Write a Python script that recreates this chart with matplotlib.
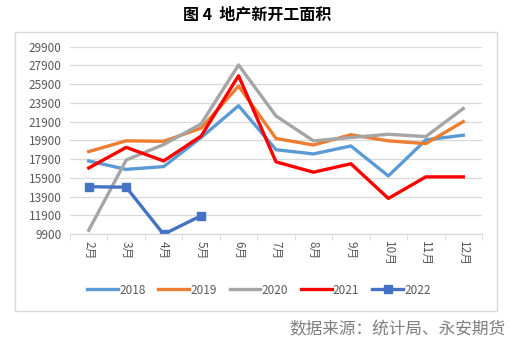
import matplotlib
matplotlib.use("Agg")
import matplotlib.pyplot as plt
from matplotlib.patches import Rectangle
import numpy as np

plt.rcParams['font.family'] = ['Noto Sans CJK SC', 'DejaVu Sans']

months = ["2月", "3月", "4月", "5月", "6月", "7月", "8月", "9月", "10月", "11月", "12月"]
s2018 = [17700, 16800, 17100, 20200, 23600, 18900, 18450, 19300, 16100, 19950, 20450]
s2019 = [18700, 19850, 19800, 21200, 25700, 20100, 19400, 20500, 19850, 19550, 21900]
s2020 = [10300, 17800, 19450, 21650, 27950, 22500, 19850, 20200, 20550, 20300, 23300]
s2021 = [16950, 19150, 17700, 20350, 26800, 17600, 16500, 17400, 13700, 16000, 16000]
s2022 = [14950, 14900, 9870, 11850]
yticks = list(range(9900, 29901, 2000))

fig = plt.figure(figsize=(5.2, 3.5), dpi=100)
ax = fig.add_axes([70/520, 1-234/350, 412/520, (234-46.7)/350])

x = np.arange(len(months))
lw = 2.4
ax.plot(x, s2018, color="#5B9BD5", lw=lw, label="2018")
ax.plot(x, s2019, color="#ED7D31", lw=lw, label="2019")
ax.plot(x, s2020, color="#A5A5A5", lw=lw, label="2020")
ax.plot(x, s2021, color="#FF0000", lw=lw, label="2021")
ax.plot(x[:len(s2022)], s2022, color="#4472C4", lw=lw, marker='s', markersize=6, label="2022")

ax.set_xlim(-0.5, len(months)-0.5)
ax.set_ylim(9900, 29900)
ax.set_yticks(yticks)
ax.set_yticklabels([str(v) for v in yticks], fontsize=8.5, color="#595959")
ax.set_xticks(x)
ax.set_xticklabels(months, rotation=-90, fontsize=8.5, color="#595959")
ax.set_xticks(np.arange(-0.5, len(months), 1), minor=True)
ax.tick_params(axis='x', which='major', length=0, pad=5)
ax.tick_params(axis='x', which='minor', length=4, color="#D9D9D9")
ax.tick_params(axis='y', length=0, pad=6)
ax.grid(axis='y', color="#D9D9D9", lw=0.9)
ax.set_axisbelow(True)
for sp in ['top', 'right', 'left']:
    ax.spines[sp].set_visible(False)
ax.spines['bottom'].set_color("#D9D9D9")
ax.spines['bottom'].set_linewidth(0.9)

leg = fig.legend(loc='center', bbox_to_anchor=(259/520, 1-290/350), ncol=5, frameon=False,
                 fontsize=8.5, handlelength=2.6, handletextpad=0.1, columnspacing=1.1)
for t in leg.get_texts():
    t.set_color("#595959")

fig.patches.append(Rectangle((15/520, 1-311/350), (497-15)/520, (311-32)/350,
                             transform=fig.transFigure, fill=False, edgecolor="#D9D9D9", lw=1))

fig.text(257/520, 1-15/350, "图 4  地产新开工面积", ha='center', va='center', fontsize=11.5, fontweight='bold', color="black")
fig.text(505/520, 1-330/350, "数据来源：统计局、永安期货", ha='right', va='center', fontsize=12, color="#7F7F7F")

fig.savefig("out.png", dpi=100)
